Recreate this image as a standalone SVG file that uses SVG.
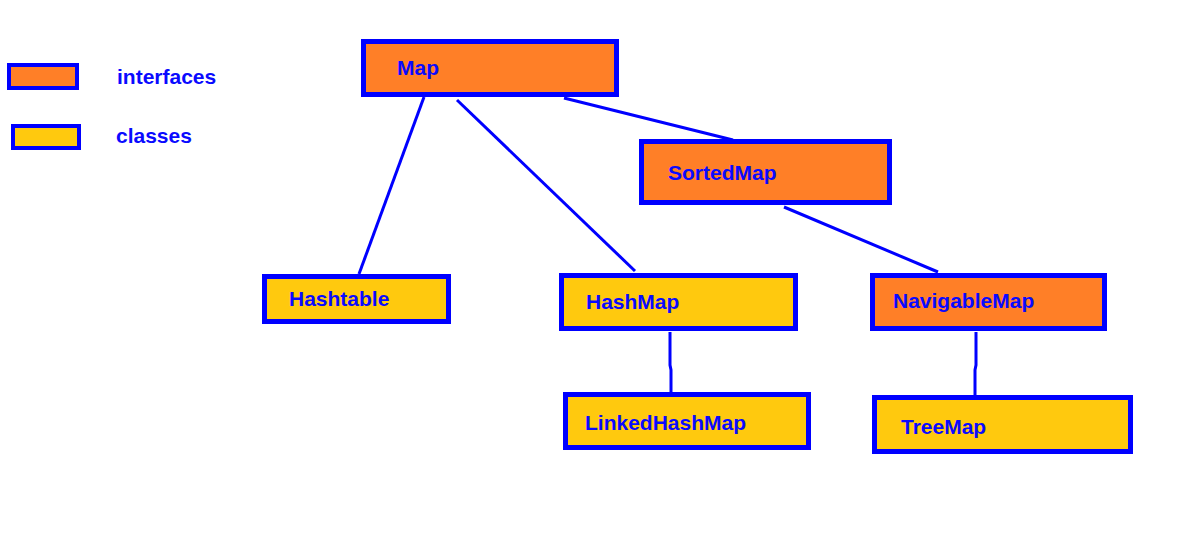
<svg xmlns="http://www.w3.org/2000/svg" width="1198" height="557" viewBox="0 0 1198 557">
<style>
.iface{fill:#ff7f27;stroke:#0000ff;stroke-width:5}
.cls{fill:#ffc90e;stroke:#0000ff;stroke-width:5}
.lg{stroke-width:4}
text{font-family:"Liberation Sans",Arial,sans-serif;font-weight:bold;font-size:21px;fill:#0a0aff}
.conn line,.conn polyline{stroke:#0000ff;stroke-width:3;fill:none}
</style>
<rect width="1198" height="557" fill="#ffffff"/>
<g id="legend">
<rect class="iface lg" x="9" y="65" width="68" height="23"/>
<text x="117" y="84" font-size="20">interfaces</text>
<rect class="cls lg" x="13" y="126" width="66" height="22"/>
<text x="116" y="143" font-size="19">classes</text>
</g>
<g class="conn" id="connectors">
<line x1="424" y1="97" x2="359" y2="274"/>
<line x1="457" y1="100" x2="635" y2="271"/>
<line x1="564" y1="98" x2="733" y2="140"/>
<line x1="784" y1="207" x2="938" y2="272"/>
<polyline points="670,332 670,365 671,370 671,393"/>
<polyline points="976,332 976,365 975,370 975,397"/>
</g>
<g id="map">
<rect class="iface" x="363.5" y="41.5" width="253" height="53"/>
<text x="397" y="75">Map</text>
</g>
<g id="sortedmap">
<rect class="iface" x="641.5" y="141.5" width="248" height="61"/>
<text x="668" y="180">SortedMap</text>
</g>
<g id="hashtable">
<rect class="cls" x="264.5" y="276.5" width="184" height="45"/>
<text x="289" y="306">Hashtable</text>
</g>
<g id="hashmap">
<rect class="cls" x="561.5" y="275.5" width="234" height="53"/>
<text x="586" y="309">HashMap</text>
</g>
<g id="navigablemap">
<rect class="iface" x="872.5" y="275.5" width="232" height="53"/>
<text x="893" y="308">NavigableMap</text>
</g>
<g id="linkedhashmap">
<rect class="cls" x="565.5" y="394.5" width="243" height="53"/>
<text x="585" y="430">LinkedHashMap</text>
</g>
<g id="treemap">
<rect class="cls" x="874.5" y="397.5" width="256" height="54"/>
<text x="901" y="434">TreeMap</text>
</g>
</svg>
